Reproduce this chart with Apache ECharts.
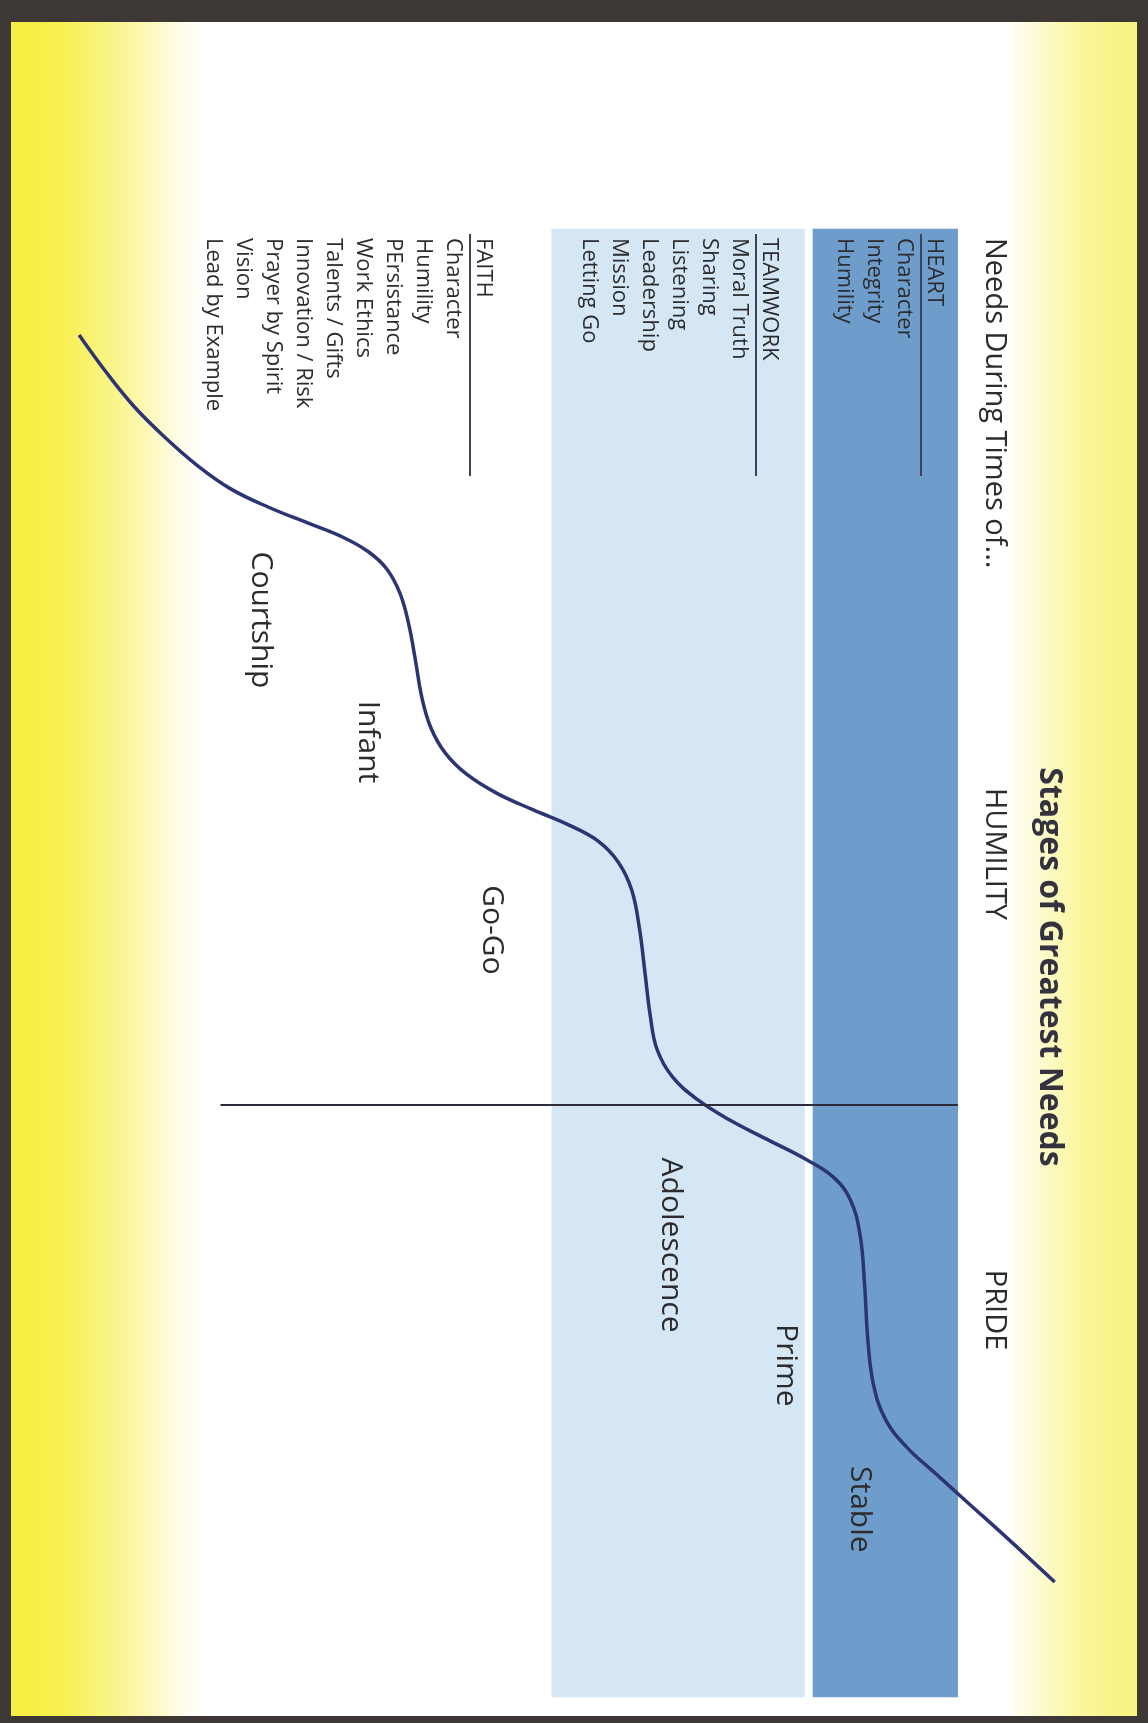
<!DOCTYPE html>
<html>
<head>
<meta charset="utf-8">
<script src="https://cdn.jsdelivr.net/npm/echarts@6/dist/echarts.min.js"></script>
<style>
  html, body { margin: 0; padding: 0; background: #3d3735; }
  #chart { width: 1148px; height: 1723px; }
</style>
</head>
<body>
<div id="chart"></div>
<script>
// ---------------- DATA ----------------
// Life-cycle curve: level (0-100, grows to the right) vs. time (0-100, grows downward)
const curveLevel = [6.05, 8.39, 10.93, 13.66, 16.59, 19.51, 22.93, 26.34, 29.27, 31.71, 33.37, 34.54, 35.32, 35.90, 36.49, 37.27, 38.54, 40.49, 43.12, 46.34, 49.56, 52.20, 53.95, 55.12, 55.81, 56.30, 56.78, 57.37, 58.73, 60.98, 63.91, 67.32, 70.54, 72.98, 74.54, 75.42, 75.81, 76.10, 76.59, 77.66, 79.52, 81.96, 84.88, 88.79, 92.69];
const curveTime  = [18.48, 20.62, 22.70, 24.51, 26.20, 27.56, 28.66, 29.57, 30.35, 31.26, 32.29, 33.72, 35.54, 37.61, 39.88, 41.63, 43.13, 44.42, 45.52, 46.50, 47.41, 48.38, 49.61, 51.23, 53.50, 56.10, 58.69, 60.64, 62.26, 63.62, 64.85, 66.02, 67.12, 68.16, 69.52, 71.66, 74.58, 77.82, 80.42, 82.49, 84.11, 85.60, 87.35, 89.69, 92.09];

// Stage labels placed along the curve
const stageNames = ['Courtship', 'Infant', 'Go-Go', 'Adolescence', 'Prime', 'Stable'];
const stageLevel = [22.2, 31.7, 42.7, 58.6, 68.8, 75.4];
const stageTime  = [35.3, 42.5, 53.6, 72.2, 79.3, 87.8];

// Bands (level ranges) and divider
const bandNames   = ['TEAMWORK / FAITH zone', 'HEART zone'];
const bandFrom    = [48.0, 71.2];
const bandTo      = [70.5, 84.1];
const bandTimeFrom = 12.2;
const bandTimeTo   = 98.9;
const dividerTime  = 63.9;
const dividerFrom  = 18.6;
const dividerTo    = 84.1;

// Text lists
const chartTitle = 'Stages of Greatest Needs';
const headerLeft = 'Needs During Times of...';
const phaseNames = ['HUMILITY', 'PRIDE'];
const heartHeader = 'HEART';
const heartNeeds = ['Character', 'Integrity', 'Humility'];
const teamworkHeader = 'TEAMWORK';
const teamworkNeeds = ['Moral Truth', 'Sharing', 'Listening', 'Leadership', 'Mission', 'Letting Go'];
const faithHeader = 'FAITH';
const faithNeeds = ['Character', 'Humility', 'PErsistance', 'Work Ethics', 'Talents / Gifts', 'Innovation / Risk', 'Prayer by Spirit', 'Vision', 'Lead by Example'];

// ---------------- RENDER ----------------
const FONT = '"Open Sans", "Noto Sans", sans-serif';
const TEXT_COLOR = '#2c2c2e';

function vText(text, x, y, size, align, weight, color, z) {
  const font = (weight || 'normal') + ' ' + size + 'px ' + FONT;
  return {
    type: 'text', x: x, y: y, rotation: -Math.PI / 2, z: z || 10, silent: true,
    style: {
      text: text, font: font, fill: color || TEXT_COLOR,
      align: align, verticalAlign: 'middle',
      textAlign: align, textVerticalAlign: 'middle'
    }
  };
}
function vLine(x, y1, y2, color, w) {
  return { type: 'line', z: 10, silent: true,
    shape: { x1: x, y1: y1, x2: x, y2: y2 },
    style: { stroke: color, lineWidth: w } };
}

const graphics = [];
// Frame background with yellow side fades
graphics.push({
  type: 'rect', z: 0, silent: true,
  shape: { x: 11, y: 22, width: 1126, height: 1694 },
  style: {
    fill: new echarts.graphic.LinearGradient(0, 0, 1, 0, [
      { offset: 0, color: '#f6ee40' },
      { offset: 0.045, color: '#f7f050' },
      { offset: 0.10, color: '#faf596' },
      { offset: 0.150, color: '#fefce8' },
      { offset: 0.168, color: '#ffffff' },
      { offset: 0.885, color: '#ffffff' },
      { offset: 0.912, color: '#fdfbd2' },
      { offset: 0.950, color: '#faf69c' },
      { offset: 1, color: '#f8f27e' }
    ])
  }
});

// Title and headers
graphics.push(vText(chartTitle, 1049, 967, 32, 'center', 'bold', '#34323f'));
graphics.push(vText(headerLeft, 994, 238, 29, 'left'));
graphics.push(vText(phaseNames[0], 994, 854, 29, 'center'));
graphics.push(vText(phaseNames[1], 994, 1310, 29, 'center'));

// Needs lists
const LIST_TOP = 238, LIST_STEP = 30, LIST_SIZE = 22, UL_END = 476;
function addList(header, items, x0) {
  graphics.push(vText(header, x0, LIST_TOP, LIST_SIZE, 'left'));
  graphics.push(vLine(x0 - 13, LIST_TOP - 4, UL_END, '#3d4256', 2));
  items.forEach(function (t, i) {
    graphics.push(vText(t, x0 - LIST_STEP * (i + 1), LIST_TOP, LIST_SIZE, 'left'));
  });
}
addList(heartHeader, heartNeeds, 934);
addList(teamworkHeader, teamworkNeeds, 769);
addList(faithHeader, faithNeeds, 483);

const curveData = curveLevel.map(function (v, i) { return [v, curveTime[i]]; });
const stageData = stageNames.map(function (n, i) { return { name: n, value: [stageLevel[i], stageTime[i]] }; });

const chart = echarts.init(document.getElementById('chart'), null, { renderer: 'canvas' });
chart.setOption({
  backgroundColor: '#3d3735',
  animation: false,
  graphic: { elements: graphics },
  grid: { left: 11, top: 22, width: 1126, height: 1694 },
  xAxis: { type: 'value', min: 0, max: 100, show: false },
  yAxis: { type: 'value', min: 0, max: 100, inverse: true, show: false },
  series: [
    {
      name: 'bands', type: 'line', z: 1, silent: true,
      data: [[0, 0]], symbol: 'none', lineStyle: { opacity: 0 },
      markArea: {
        silent: true,
        data: [
          [{ name: bandNames[0], xAxis: bandFrom[0], yAxis: bandTimeFrom, itemStyle: { color: '#d5e6f5' } }, { xAxis: bandTo[0], yAxis: bandTimeTo }],
          [{ name: bandNames[1], xAxis: bandFrom[1], yAxis: bandTimeFrom, itemStyle: { color: '#6e9dcc' } }, { xAxis: bandTo[1], yAxis: bandTimeTo }]
        ],
        label: { show: false }
      },
      markLine: {
        silent: true, symbol: 'none',
        label: { show: false },
        lineStyle: { color: '#2c2c3a', width: 2, type: 'solid' },
        data: [[{ coord: [dividerFrom, dividerTime] }, { coord: [dividerTo, dividerTime] }]]
      }
    },
    {
      name: 'life cycle', type: 'line', z: 3, silent: true, clip: false,
      data: curveData, smooth: 0.4, symbol: 'none',
      lineStyle: { color: '#2c3473', width: 3.5 }
    },
    {
      name: 'stages', type: 'scatter', z: 4, silent: true,
      data: stageData, symbolSize: 0.1, itemStyle: { color: TEXT_COLOR, opacity: 1 },
      label: {
        show: true, position: 'inside', formatter: '{b}', rotate: -90,
        fontFamily: FONT, fontSize: 30, color: TEXT_COLOR, opacity: 1
      }
    }
  ]
});
</script>
</body>
</html>
